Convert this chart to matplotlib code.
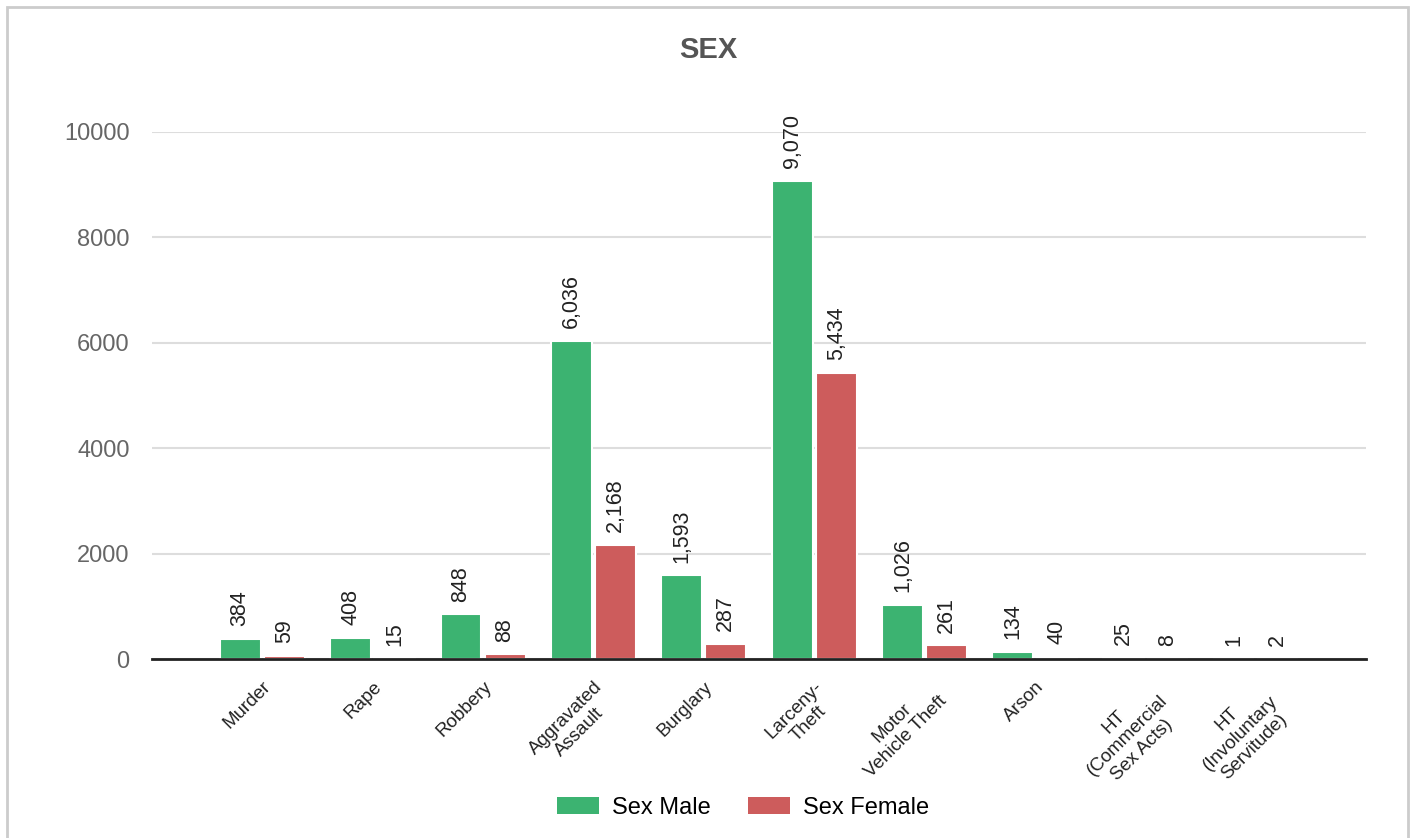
import numpy as np
import matplotlib.pyplot as plt
from matplotlib.patches import Rectangle

plt.rcParams['font.family'] = ['Liberation Sans', 'DejaVu Sans']

categories = ['Murder', 'Rape', 'Robbery', 'Aggravated\nAssault', 'Burglary',
              'Larceny-\nTheft', 'Motor\nVehicle Theft', 'Arson',
              'HT\n(Commercial\nSex Acts)', 'HT\n(Involuntary\nServitude)']
male = [384, 408, 848, 6036, 1593, 9070, 1026, 134, 25, 1]
female = [59, 15, 88, 2168, 287, 5434, 261, 40, 8, 2]

green = '#3cb371'
red = '#cd5c5c'

fig = plt.figure(figsize=(14.16, 8.38), dpi=100)
ax = fig.add_axes([0.1073, 0.2136, 0.8574, 0.6289])

x = np.arange(len(categories))
w = 0.37
off = 0.2
b1 = ax.bar(x - off, male, w, color=green, edgecolor='white', linewidth=1.5,
            label='Sex Male')
b2 = ax.bar(x + off, female, w, color=red, edgecolor='white', linewidth=1.5,
            label='Sex Female')

for bars, vals in ((b1, male), (b2, female)):
    for rect, v in zip(bars, vals):
        ax.annotate(f'{v:,}', (rect.get_x() + rect.get_width() / 2, v),
                    xytext=(0, 9), textcoords='offset points',
                    rotation=90, ha='center', va='bottom', fontsize=15.5,
                    color='#222222', annotation_clip=False)

ax.set_xlim(-1, 10)
ax.set_ylim(0, 10000)
ax.set_yticks([0, 2000, 4000, 6000, 8000, 10000])
ax.tick_params(axis='y', length=0, labelsize=17, labelcolor='#666666', pad=16)
ax.grid(axis='y', color='#dddddd', linewidth=1.5)
ax.set_axisbelow(True)
for s in ['top', 'right', 'left']:
    ax.spines[s].set_visible(False)
ax.spines['bottom'].set_color('#222222')
ax.spines['bottom'].set_linewidth(2)

ax.set_xticks(x)
ax.set_xticklabels(categories, rotation=45, ha='right', rotation_mode='anchor',
                   multialignment='center', fontsize=13.5, color='#222222')
ax.tick_params(axis='x', length=0, pad=14)

fig.text(0.5, 0.94, 'SEX', ha='center', va='center', fontsize=21,
         fontweight='bold', color='#555555')

fig.legend(handles=[b1, b2], loc='center', bbox_to_anchor=(0.525, 0.036),
           ncol=2, frameon=False, fontsize=17, handlelength=1.78,
           handleheight=0.68, handletextpad=0.55, columnspacing=1.57)
for h in fig.legends[0].legend_handles:
    h.set_edgecolor('none')

fig.patches.append(Rectangle((7 / 1416, -0.05), 1401 / 1416, 1 + 0.05 - 7 / 838,
                             transform=fig.transFigure, fill=False,
                             edgecolor='#cccccc', linewidth=2))

fig.savefig('out.png', dpi=100)
